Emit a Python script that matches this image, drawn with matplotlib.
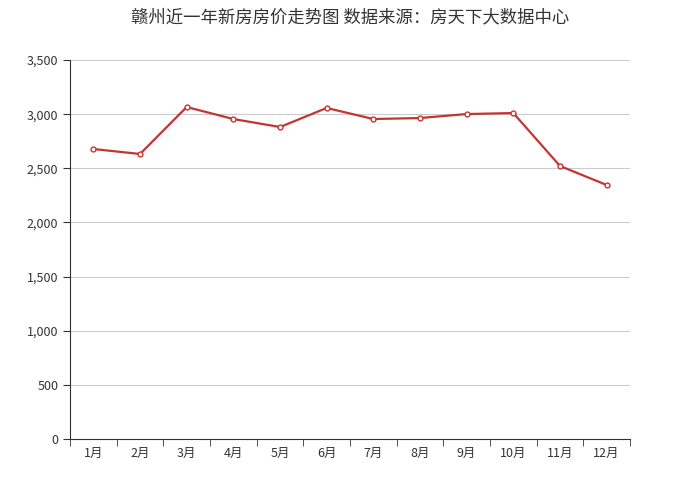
import numpy as np
import matplotlib
matplotlib.use('Agg')
import matplotlib.pyplot as plt

plt.rcParams['font.family'] = ['Noto Sans CJK SC', 'DejaVu Sans']

months = ['1月', '2月', '3月', '4月', '5月', '6月', '7月', '8月', '9月', '10月', '11月', '12月']
prices = [2678, 2632, 3066, 2955, 2881, 3057, 2955, 2964, 3001, 3010, 2521, 2346]
yticks = [0, 500, 1000, 1500, 2000, 2500, 3000, 3500]

fig = plt.figure(figsize=(7, 5), dpi=100)
ax = fig.add_axes([0.1, 0.122, 0.8, 0.758])

x = np.arange(len(months))
ax.plot(x, prices, color='#c23531', lw=1.6, marker='o', ms=3.5,
        mfc='white', mec='#c23531', mew=1, zorder=3)

ax.set_xlim(-0.5, len(months) - 0.5)
ax.set_ylim(0, 3500)
ax.set_yticks(yticks)
ax.set_yticklabels([f'{v:,}' for v in yticks], fontsize=9, color='#333333')
ax.set_xticks(x)
ax.set_xticklabels(months, fontsize=9, color='#333333')
ax.set_xticks(np.arange(-0.5, len(months)), minor=True)
ax.tick_params(axis='x', which='major', length=0, pad=6)
ax.tick_params(axis='x', which='minor', length=5, color='#333333')
ax.tick_params(axis='y', length=5, color='#333333')

ax.grid(axis='y', color='#cccccc', lw=0.8)
ax.set_axisbelow(True)
for s in ['top', 'right']:
    ax.spines[s].set_visible(False)
ax.spines['left'].set_color('#333333')
ax.spines['bottom'].set_color('#333333')

fig.text(0.5, 0.965, '赣州近一年新房房价走势图 数据来源：房天下大数据中心',
         ha='center', va='center', fontsize=12.5, color='#333333')

fig.savefig('out.png', dpi=100)
